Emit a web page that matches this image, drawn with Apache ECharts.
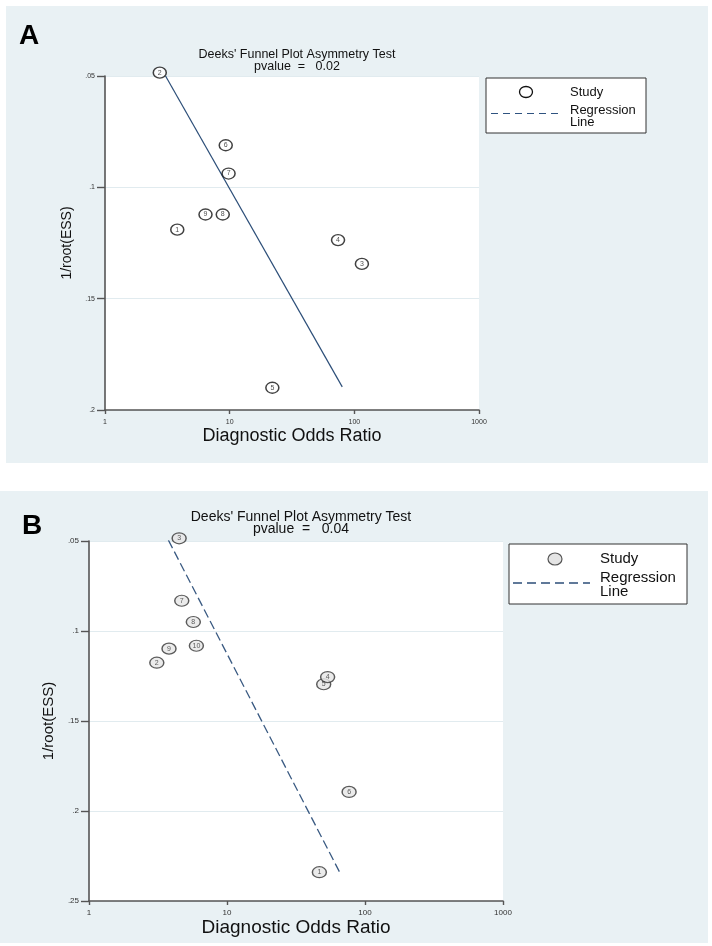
<!DOCTYPE html>
<html>
<head>
<meta charset="utf-8">
<script src="https://cdn.jsdelivr.net/npm/echarts@6/dist/echarts.min.js"></script>
<style>
html,body{margin:0;padding:0;background:#ffffff;}
#chart{width:712px;height:946px;}
</style>
</head>
<body>
<div id="chart"></div>
<script>
// ---------- Panel A data ----------
const studyA  = ['1','2','3','4','5','6','7','8','9'];
const dorA    = [3.8, 2.75, 115, 74, 22, 9.3, 9.8, 8.8, 6.4];
const invEssA = [0.119, 0.0485, 0.1344, 0.1237, 0.190, 0.0811, 0.0938, 0.1122, 0.1122];
const regDorA = [3.06, 80];
const regEssA = [0.05, 0.1896];
const titleA  = "Deeks' Funnel Plot Asymmetry Test";
const pvalA   = "pvalue  =   0.02";

// ---------- Panel B data ----------
const studyB  = ['1','2','3','5','4','6','7','8','9','10'];
const dorB    = [46.7, 3.1, 4.5, 50.2, 53.6, 76.7, 4.7, 5.7, 3.8, 6.0];
const invEssB = [0.234, 0.1176, 0.0485, 0.1296, 0.1256, 0.1894, 0.0832, 0.095, 0.1098, 0.1082];
const regDorB = [3.76, 65.5];
const regEssB = [0.0495, 0.234];
const titleB  = "Deeks' Funnel Plot Asymmetry Test";
const pvalB   = "pvalue  =   0.04";

const xName = 'Diagnostic Odds Ratio';
const yName = '1/root(ESS)';
const legendStudy = 'Study';
const legendReg = 'Regression\nLine';

const FONT = '"Liberation Sans", Arial, sans-serif';

function yFmt(v){ return String(+v.toFixed(2)).replace(/^0/, ''); }
function xFmt(v){ return String(Math.round(v)); }

const chart = echarts.init(document.getElementById('chart'), null, {renderer:'canvas'});

function xAxisCfg(gridIndex, fs, nameSize, nameGap, margin){
  return {
    gridIndex, type:'log', logBase:10, min:1, max:1000,
    name:xName, nameLocation:'middle', nameGap:nameGap,
    nameTextStyle:{fontFamily:FONT, fontSize:nameSize, color:'#111'},
    axisLine:{onZero:false, lineStyle:{color:'#555', width:1.6}},
    axisTick:{show:true, length:4, inside:false, lineStyle:{color:'#555', width:1.4}},
    axisLabel:{fontFamily:FONT, fontSize:fs, color:'#333', margin:margin, formatter:xFmt},
    splitLine:{show:false}, minorTick:{show:false}
  };
}
function yAxisCfg(gridIndex, max, fs, nameSize, nameGap){
  return {
    gridIndex, type:'value', inverse:true, min:0.05, max:max, interval:0.05,
    name:yName, nameLocation:'middle', nameGap:nameGap, nameRotate:90,
    nameTextStyle:{fontFamily:FONT, fontSize:nameSize, color:'#111'},
    axisLine:{show:true, onZero:false, lineStyle:{color:'#555', width:1.6}},
    axisTick:{show:true, length:8, lineStyle:{color:'#555', width:1.4}},
    axisLabel:{fontFamily:FONT, fontSize:fs, color:'#333', margin:10, formatter:yFmt},
    splitLine:{show:true, lineStyle:{color:'#e1ebef', width:1.2}}
  };
}

const option = {
  animation:false,
  backgroundColor:'#ffffff',
  title:[
    {text: titleA + '\n' + pvalA, left:292, top:44, textAlign:'center',
     textStyle:{fontFamily:FONT, fontSize:12.5, fontWeight:'normal', color:'#111', lineHeight:11.5}},
    {text: titleB + '\n' + pvalB, left:296, top:506, textAlign:'center',
     textStyle:{fontFamily:FONT, fontSize:14, fontWeight:'normal', color:'#111', lineHeight:12}}
  ],
  grid:[
    {left:105, top:76, width:374, height:334, show:true, backgroundColor:'#ffffff', borderWidth:0},
    {left:89, top:541, width:414, height:360, show:true, backgroundColor:'#ffffff', borderWidth:0}
  ],
  xAxis:[ xAxisCfg(0, 7, 18, 17, 9), xAxisCfg(1, 8, 19, 17, 8) ],
  yAxis:[ yAxisCfg(0, 0.2, 7, 14, 20), yAxisCfg(1, 0.25, 8, 15, 33) ],
  graphic:[
    {type:'rect', z:-10, shape:{x:6, y:6, width:702, height:457}, style:{fill:'#e9f1f4'}},
    {type:'rect', z:-10, shape:{x:0, y:491, width:708, height:452}, style:{fill:'#e9f1f4'}},
    {type:'text', z:10, style:{text:'A', x:19, y:22, font:'bold 28px '+FONT, fill:'#000'}},
    {type:'text', z:10, style:{text:'B', x:22, y:512, font:'bold 28px '+FONT, fill:'#000'}},
    // legend A
    {type:'rect', z:10, shape:{x:486, y:78, width:160, height:55}, style:{fill:'#ffffff', stroke:'#333', lineWidth:1}},
    {type:'ellipse', z:11, shape:{cx:526, cy:92, rx:6.5, ry:5.5}, style:{fill:'#ffffff', stroke:'#111', lineWidth:1.3}},
    {type:'line', z:11, shape:{x1:491, y1:113.5, x2:559, y2:113.5}, style:{stroke:'#2f5380', lineWidth:1, lineDash:[7,5]}},
    {type:'text', z:11, style:{text:legendStudy, x:570, y:92, font:'13px '+FONT, fill:'#111', verticalAlign:'middle', textVerticalAlign:'middle'}},
    {type:'text', z:11, style:{text:legendReg, x:570, y:116, font:'13px '+FONT, fill:'#111', lineHeight:12, verticalAlign:'middle', textVerticalAlign:'middle'}},
    // legend B
    {type:'rect', z:10, shape:{x:509, y:544, width:178, height:60}, style:{fill:'#ffffff', stroke:'#333', lineWidth:1}},
    {type:'ellipse', z:11, shape:{cx:555, cy:559, rx:7, ry:6}, style:{fill:'#e4e4e4', stroke:'#555', lineWidth:1.2}},
    {type:'line', z:11, shape:{x1:513, y1:583, x2:590, y2:583}, style:{stroke:'#2c4d78', lineWidth:1.3, lineDash:[9,5]}},
    {type:'text', z:11, style:{text:legendStudy, x:600, y:559, font:'15px '+FONT, fill:'#111', verticalAlign:'middle', textVerticalAlign:'middle'}},
    {type:'text', z:11, style:{text:legendReg, x:600, y:585, font:'15px '+FONT, fill:'#111', lineHeight:14, verticalAlign:'middle', textVerticalAlign:'middle'}}
  ],
  series:[
    {type:'line', xAxisIndex:0, yAxisIndex:0, symbol:'none', silent:true, z:3,
     data: regDorA.map((d,i)=>[d, regEssA[i]]),
     lineStyle:{color:'#2c4e78', width:1.2, type:'solid'}},
    {type:'scatter', xAxisIndex:0, yAxisIndex:0, clip:false, z:4,
     symbol:'circle', symbolSize:[13,11],
     data: dorA.map((d,i)=>({value:[d, invEssA[i]], name:studyA[i]})),
     itemStyle:{color:'#ffffff', borderColor:'#111', borderWidth:1.4},
     label:{show:true, position:'inside', formatter:p=>p.name, fontFamily:FONT, fontSize:7, color:'#222'}},
    {type:'line', xAxisIndex:1, yAxisIndex:1, symbol:'none', silent:true, z:3,
     data: regDorB.map((d,i)=>[d, regEssB[i]]),
     lineStyle:{color:'#3a5a82', width:1.3, type:[9,4]}},
    {type:'scatter', xAxisIndex:1, yAxisIndex:1, clip:false, z:4,
     symbol:'circle', symbolSize:[14,11],
     data: dorB.map((d,i)=>({value:[d, invEssB[i]], name:studyB[i]})),
     itemStyle:{color:'#e6e6e6', borderColor:'#333', borderWidth:1.3},
     label:{show:true, position:'inside', formatter:p=>p.name, fontFamily:FONT, fontSize:7, color:'#333'}}
  ]
};
chart.setOption(option);
</script>
</body>
</html>
